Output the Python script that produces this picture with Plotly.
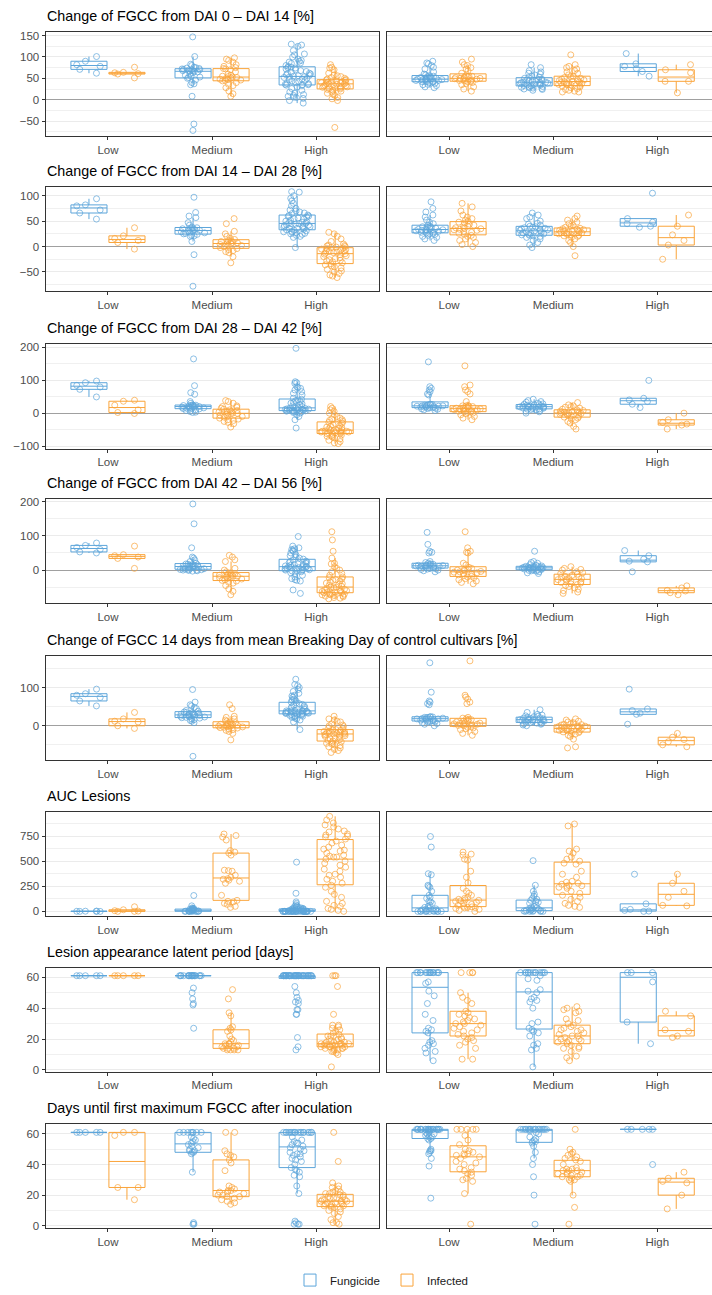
import plotly.graph_objects as go

W, H = 712, 1295
BLUE = "#5DA5DA"
ORANGE = "#FAA43A"
BLUE_PT = "rgba(93,165,218,0.70)"
ORANGE_PT = "rgba(250,164,58,0.70)"

CATS = ["Low", "Medium", "High"]
GROUPS = ["Fungicide", "Infected"]
TITLES = [
    "Change of FGCC from DAI 0 – DAI 14 [%]",
    "Change of FGCC from DAI 14 – DAI 28 [%]",
    "Change of FGCC from DAI 28 – DAI 42 [%]",
    "Change of FGCC from DAI 42 – DAI 56 [%]",
    "Change of FGCC 14 days from mean Breaking Day of control cultivars [%]",
    "AUC Lesions",
    "Lesion appearance latent period [days]",
    "Days until first maximum FGCC after inoculation",
]

# ---------------- Row 1 ----------------
r1_L_fung = [
    [62, 71, 78, 82, 90, 101],
    [147, 101, 83, 80, 76, 75, 74, 73, 72, 71, 70, 70, 69, 68, 68, 67, 66, 65, 63, 60, 57, 55, 53, 52, 50, 46, 40, 37, 35, 8, -57, -72],
    [130, 128, 125, 115, 107, 105, 100, 95, 92, 90, 88, 86, 85, 80, 78, 76, 75, 74, 72, 70, 68, 66, 64, 62, 61, 60, 58, 57, 56, 55, 54, 53, 52, 50, 48, 47, 45, 44, 42, 40, 38, 37, 36, 35, 35, 34, 33, 30, 26, 22, 18, 15, 12, 10, 8, 6, 5, 3, -2, -8],
]
r1_L_inf = [
    [51, 60, 61, 63, 64, 76],
    [98, 95, 92, 88, 82, 78, 75, 73, 72, 70, 65, 60, 57, 55, 54, 53, 52, 51, 50, 48, 47, 46, 45, 44, 40, 36, 33, 28, 20, 14, 8],
    [82, 76, 74, 70, 62, 58, 56, 54, 52, 50, 48, 47, 46, 45, 44, 43, 42, 41, 40, 40, 39, 38, 37, 37, 36, 35, 34, 33, 32, 31, 30, 29, 28, 27, 26, 25, 24, 22, 20, 18, 15, 12, 10, 5, 2, -2, -65],
]
r1_R_fung = [
    [90, 86, 84, 80, 76, 72, 65, 60, 58, 56, 55, 54, 53, 52, 51, 50, 50, 49, 48, 48, 47, 47, 46, 45, 45, 44, 43, 42, 42, 41, 40, 38, 36, 35, 33, 30, 28],
    [82, 75, 68, 65, 62, 60, 58, 55, 53, 52, 50, 48, 47, 46, 45, 44, 43, 42, 41, 41, 40, 40, 39, 38, 37, 36, 35, 34, 33, 32, 31, 30, 29, 28, 27, 26, 25, 24, 22],
    [55, 66, 73, 78, 84, 108],
]
r1_R_inf = [
    [95, 88, 82, 80, 75, 72, 68, 62, 56, 55, 55, 54, 53, 52, 51, 50, 50, 49, 48, 47, 46, 45, 44, 43, 42, 40, 38, 35, 30, 25, 20],
    [105, 82, 78, 75, 72, 68, 65, 62, 58, 55, 54, 52, 50, 48, 47, 46, 45, 44, 43, 42, 41, 40, 39, 38, 37, 36, 35, 34, 33, 32, 30, 28, 26, 24, 22, 20, 18, 18],
    [16, 43, 43, 63, 70, 82],
]

# ---------------- Row 2 ----------------
r2_L_fung = [
    [54, 66, 72, 80, 82, 94],
    [97, 67, 60, 57, 47, 42, 38, 37, 36, 35, 35, 34, 33, 32, 31, 30, 29, 28, 27, 26, 25, 24, 22, 21, 20, 10, -16, -78],
    [108, 107, 100, 95, 90, 85, 80, 75, 72, 70, 68, 66, 65, 62, 61, 60, 59, 58, 56, 55, 54, 52, 50, 49, 48, 47, 46, 45, 45, 44, 43, 42, 41, 40, 39, 38, 37, 36, 35, 34, 33, 32, 31, 30, 29, 28, 27, 26, 25, 24, 22, 20, 18, -2],
]
r2_L_inf = [
    [-5, 8, 12, 16, 21, 37],
    [55, 45, 30, 25, 20, 16, 14, 12, 11, 10, 9, 8, 7, 6, 5, 4, 3, 2, 0, -2, -4, -6, -8, -10, -12, -20, -32],
    [28, 25, 20, 15, 10, 5, 3, 2, 1, 0, -1, -2, -3, -4, -5, -6, -7, -8, -9, -10, -11, -12, -13, -14, -15, -16, -18, -20, -22, -24, -26, -27, -28, -30, -32, -34, -36, -38, -40, -42, -45, -48, -50, -53, -56, -58, -61],
]
r2_R_fung = [
    [88, 75, 68, 62, 58, 52, 48, 45, 42, 40, 39, 38, 37, 36, 35, 34, 34, 33, 33, 32, 31, 30, 30, 29, 28, 27, 26, 25, 24, 22, 20, 18, 15, 12],
    [66, 62, 58, 55, 50, 46, 44, 42, 40, 39, 38, 37, 36, 35, 34, 33, 32, 31, 30, 29, 28, 27, 26, 25, 24, 23, 22, 21, 20, 18, 15, 12, 8, 3, -2],
    [38, 40, 45, 48, 55, 105],
]
r2_R_inf = [
    [85, 78, 70, 62, 58, 55, 52, 50, 48, 46, 44, 42, 40, 38, 37, 36, 35, 34, 33, 32, 30, 28, 26, 24, 22, 20, 18, 15, 12, 8, 4, 0],
    [60, 55, 52, 48, 45, 42, 40, 38, 36, 35, 34, 33, 32, 31, 30, 30, 29, 28, 28, 27, 26, 25, 24, 23, 22, 21, 20, 18, 15, 12, 8, 0, -18],
    [-25, 3, 12, 23, 40, 62],
]

# ---------------- Row 3 ----------------
r3_L_fung = [
    [49, 72, 79, 84, 92, 97],
    [164, 83, 62, 57, 35, 30, 25, 24, 24, 23, 23, 22, 21, 20, 20, 19, 18, 17, 16, 15, 14, 13, 12, 10, 8, 5, 3, 2],
    [196, 95, 92, 90, 80, 78, 75, 70, 65, 60, 55, 45, 42, 40, 38, 35, 32, 30, 28, 25, 22, 20, 18, 17, 16, 15, 14, 13, 12, 12, 11, 10, 10, 9, 9, 8, 8, 7, 7, 6, 5, 4, 3, 2, 0, -5, -10, -20, -45],
]
r3_L_inf = [
    [-1, 2, 10, 24, 36, 39],
    [38, 35, 30, 22, 20, 18, 15, 12, 10, 8, 6, 5, 3, 2, 0, -1, -2, -4, -6, -8, -10, -12, -15, -18, -20, -22, -25, -28, -32, -42],
    [20, 15, 10, 5, 0, -5, -10, -15, -18, -20, -22, -25, -28, -30, -32, -35, -38, -40, -42, -44, -46, -48, -50, -51, -52, -53, -54, -55, -55, -56, -57, -57, -58, -59, -60, -61, -62, -64, -66, -68, -70, -72, -75, -78, -82, -86, -90, -92],
]
r3_R_fung = [
    [155, 80, 75, 70, 65, 58, 55, 27, 26, 26, 25, 24, 23, 22, 22, 21, 21, 20, 20, 19, 18, 17, 16, 15, 14, 13, 12, 10, 8],
    [42, 38, 35, 33, 30, 28, 27, 26, 25, 24, 23, 22, 21, 20, 20, 19, 19, 18, 17, 16, 15, 14, 13, 12, 11, 10, 8, 6, 4, 0],
    [17, 27, 35, 40, 45, 99],
]
r3_R_inf = [
    [143, 85, 80, 70, 65, 58, 35, 23, 22, 21, 22, 20, 18, 16, 15, 14, 13, 12, 11, 10, 9, 8, 6, 5, 4, 2, 0, -2, -5, -10, -15, -20],
    [32, 25, 22, 20, 18, 15, 12, 10, 8, 6, 5, 4, 3, 2, 1, 0, -1, -2, -4, -6, -8, -10, -12, -15, -18, -20, -25, -30, -40, -48],
    [-48, -36, -33, -28, -20, 0],
]

# ---------------- Row 4 ----------------
r4_L_fung = [
    [50, 53, 60, 66, 72, 79],
    [193, 135, 65, 38, 35, 30, 25, 20, 18, 17, 16, 15, 14, 13, 12, 11, 10, 9, 8, 7, 6, 5, 4, 3, 2, 1, 1, 0, 0, -1, -2, -3],
    [98, 70, 65, 62, 60, 58, 55, 50, 45, 42, 38, 35, 32, 30, 26, 25, 24, 22, 20, 18, 16, 15, 14, 12, 11, 10, 10, 9, 8, 7, 6, 5, 4, 3, 2, 1, 0, -1, -2, -3, -5, -8, -10, -15, -20, -25, -28, -30, -32, -58, -68],
]
r4_L_inf = [
    [5, 34, 38, 42, 45, 70],
    [43, 38, 30, 25, 5, 0, -5, -8, -10, -12, -14, -15, -16, -17, -18, -19, -20, -22, -24, -26, -28, -30, -32, -35, -38, -45, -55, -62, -72],
    [112, 88, 55, 35, 20, 18, 10, 5, 0, -5, -10, -15, -20, -22, -25, -28, -30, -32, -35, -38, -40, -42, -45, -47, -49, -50, -52, -54, -56, -58, -60, -60, -62, -62, -64, -65, -66, -66, -68, -70, -70, -72, -72, -74, -75, -76, -78, -80, -82, -84],
]
r4_R_fung = [
    [110, 75, 55, 52, 50, 25, 22, 20, 18, 17, 16, 15, 14, 13, 13, 12, 12, 11, 10, 9, 8, 7, 6, 5, 4, 3, 2, 0, -2, -5],
    [55, 25, 22, 20, 16, 14, 12, 11, 10, 10, 9, 9, 8, 8, 7, 6, 6, 5, 5, 4, 3, 2, 1, 0, -1, -2, -3, -5, -8, -10],
    [-5, 24, 26, 32, 42, 57],
]
r4_R_inf = [
    [112, 65, 55, 52, 50, 20, 15, 8, 5, 3, 1, 0, -2, -4, -5, -6, -8, -10, -12, -14, -16, -18, -20, -22, -25, -28, -32, -36, -40],
    [10, 5, 2, 0, -5, -8, -10, -12, -15, -18, -20, -22, -24, -25, -26, -28, -30, -32, -34, -36, -38, -40, -42, -45, -48, -52, -56, -60, -64, -68],
    [-72, -66, -61, -59, -52, -46],
]

# ---------------- Row 5 ----------------
r5_L_fung = [
    [52, 65, 74, 80, 84, 96],
    [95, 62, 55, 52, 48, 45, 40, 38, 36, 35, 34, 33, 32, 31, 30, 29, 28, 27, 27, 26, 25, 24, 23, 22, 21, 20, 18, 16, 14, 12, 8, -80],
    [122, 108, 105, 100, 95, 90, 85, 80, 78, 75, 70, 68, 65, 62, 60, 58, 56, 54, 52, 50, 48, 46, 44, 42, 40, 40, 39, 39, 38, 38, 37, 37, 36, 36, 35, 35, 34, 34, 33, 33, 32, 31, 30, 29, 28, 27, 26, 25, 24, 22, 20, 18, 15, 10, -10],
]
r5_L_inf = [
    [-7, 0, 10, 12, 18, 35],
    [55, 45, 25, 22, 18, 15, 12, 10, 8, 6, 5, 4, 3, 2, 1, 0, 0, -1, -2, -3, -4, -5, -6, -8, -10, -12, -15, -20, -37],
    [25, 18, 15, 12, 10, 5, 2, 0, -2, -5, -8, -10, -11, -12, -14, -15, -16, -17, -18, -19, -20, -20, -21, -22, -22, -24, -25, -26, -28, -30, -32, -34, -36, -38, -40, -42, -44, -46, -48, -50, -52, -55, -58, -62, -65, -70],
]
r5_R_fung = [
    [165, 88, 65, 62, 58, 55, 24, 23, 23, 22, 22, 21, 20, 19, 18, 18, 17, 16, 15, 14, 13, 12, 11, 10, 8, 6, 4, 0],
    [42, 35, 30, 28, 26, 25, 24, 22, 21, 20, 19, 18, 17, 16, 16, 15, 14, 13, 12, 11, 10, 9, 8, 7, 6, 5, 4, 2, 0],
    [4, 30, 33, 40, 44, 96],
]
r5_R_inf = [
    [170, 80, 75, 70, 62, 58, 22, 20, 18, 17, 16, 14, 12, 10, 8, 7, 6, 5, 4, 3, 2, 1, 0, -2, -4, -6, -8, -10, -15, -20, -25],
    [18, 15, 12, 10, 8, 5, 4, 3, 2, 0, -1, -2, -3, -4, -5, -6, -7, -8, -9, -10, -12, -13, -14, -15, -16, -18, -20, -22, -25, -28, -35, -55, -58],
    [-55, -50, -42, -36, -30, -20],
]

# ---------------- Row 6 ----------------
r6_L_fung = [
    [0, 0, 0, 1, 2, 3],
    [158, 55, 35, 30, 28, 25, 22, 20, 18, 15, 12, 10, 8, 6, 5, 4, 3, 2, 1, 0, 0, 0, 0, 0, 0],
    [490, 180, 95, 80, 65, 55, 50, 45, 40, 35, 32, 30, 28, 25, 22, 20, 18, 16, 15, 12, 10, 9, 8, 7, 6, 5, 4, 3, 2, 1,
     0, 0, 0, 0, 0, 0, 0, 0, 0, 0, 0, 0, 0, 0, 0, 0, 0, 0, 0, 0, 0, 0, 0, 0, 0],
]
r6_L_inf = [
    [0, 0, 3, 7, 16, 46],
    [770, 755, 740, 710, 605, 590, 580, 560, 410, 405, 400, 360, 340, 325, 320, 310, 300, 280, 160, 110, 100, 95, 80, 70, 50, 40],
    [946, 910, 880, 860, 840, 820, 800, 790, 770, 760, 750, 740, 720, 700, 680, 660, 640, 620, 610, 600, 580, 560, 550, 540, 540, 520, 500, 480, 460, 440, 420, 400, 370, 360, 340, 320, 300, 280, 260, 240, 200, 170, 140, 100, 80, 60, 50, 30, 20, 10, 0],
]
r6_R_fung = [
    [745, 640, 375, 365, 260, 250, 240, 200, 160, 140, 130, 100, 95, 80, 60, 50, 40, 30, 25, 20, 15, 10, 8, 5, 3, 0, 0, 0, 0, 0, 0, 0, 0, 0],
    [505, 260, 200, 170, 150, 130, 120, 110, 100, 90, 80, 60, 50, 40, 35, 30, 25, 20, 15, 12, 10, 8, 5, 3, 0, 0, 0, 0, 0],
    [0, 3, 10, 20, 75, 370],
]
r6_R_inf = [
    [590, 570, 560, 520, 510, 400, 340, 285, 230, 200, 180, 160, 140, 130, 120, 115, 110, 105, 100, 90, 80, 70, 60, 50, 45, 40, 38, 35, 30, 20, 10, 0],
    [870, 850, 620, 600, 580, 540, 520, 500, 480, 470, 400, 370, 340, 300, 290, 280, 270, 260, 255, 250, 240, 230, 200, 180, 160, 140, 120, 100, 80, 60, 50, 40],
    [55, 60, 140, 200, 280, 370],
]

# ---------------- Row 7 ----------------
r7_L_fung = [
    [61, 61, 61, 61, 61],
    [61, 61, 61, 61, 61, 61, 61, 61, 61, 61, 61, 61, 61, 61, 61, 61, 61, 61, 61, 61, 53, 50, 46, 43, 42, 27],
    [61, 61, 61, 61, 61, 61, 61, 61, 61, 61, 61, 61, 61, 61, 61, 61, 61, 61, 61, 61,
     61, 61, 61, 61, 61, 61, 61, 61, 61, 61, 61, 61, 61, 61, 61, 61, 61, 61, 61, 61,
     54, 50, 47, 45, 44, 43, 39, 39, 36, 36, 21, 15, 13],
]
r7_L_inf = [
    [61, 61, 61, 61, 61],
    [52, 46, 37, 35, 28, 27, 26, 25, 22, 20, 19, 18, 17, 17, 17, 16, 16, 15, 15, 14, 14, 14, 13, 13, 13, 13],
    [61, 61, 61, 54, 36, 29, 29, 28, 27, 26, 25, 24, 23, 22, 22, 21, 20, 20, 20, 19, 19, 18, 18, 18, 17, 17, 17, 17, 17, 16, 16, 16, 16, 16, 15, 15, 15, 15, 14, 14, 14, 14, 13, 13, 12, 12, 11, 10, 2],
]
r7_R_fung = [
    [63, 63, 63, 63, 63, 63, 63, 63, 63, 63, 63, 63, 63, 63, 63, 57, 56, 51, 48, 43, 36, 32, 27, 26, 25, 24, 19, 18, 17, 16, 14, 12, 11, 6],
    [63, 63, 63, 63, 63, 63, 63, 63, 63, 63, 63, 63, 63, 61, 59, 58, 52, 51, 50, 47, 46, 45, 44, 40, 31, 30, 27, 26, 25, 24, 22, 17, 16, 14, 13, 2],
    [17, 31, 57, 63, 63, 63],
]
r7_R_inf = [
    [63, 63, 63, 63, 50, 47, 45, 43, 38, 37, 36, 35, 34, 33, 32, 31, 30, 30, 29, 28, 27, 26, 25, 24, 23, 22, 21, 20, 19, 18, 16, 14, 7, 7],
    [41, 40, 39, 38, 37, 33, 32, 30, 29, 28, 27, 26, 26, 25, 24, 23, 22, 22, 21, 20, 20, 19, 19, 18, 18, 17, 16, 15, 14, 14, 12, 9, 8, 6],
    [21, 22, 25, 26, 35, 38],
]

# ---------------- Row 8 ----------------
r8_L_fung = [
    [61, 61, 61, 61, 61],
    [61, 61, 61, 61, 61, 61, 61, 61, 58, 57, 56, 55, 54, 53, 52, 51, 50, 49, 49, 48, 48, 47, 35, 2, 1, 1],
    [61, 61, 61, 61, 61, 61, 61, 61, 61, 61, 61, 61, 61, 61, 61, 61, 61, 61,
     58, 56, 55, 54, 54, 53, 52, 51, 50, 49, 48, 47, 47, 46, 45, 44, 43, 42, 40, 38, 37, 36, 35, 33, 32, 26, 21, 3, 2, 1, 1, 1],
]
r8_L_inf = [
    [17, 25, 25, 59, 61, 61],
    [61, 61, 49, 47, 46, 45, 43, 41, 36, 26, 25, 24, 23, 23, 22, 22, 21, 20, 20, 19, 19, 18, 17, 16, 15, 14],
    [61, 42, 28, 26, 25, 24, 23, 22, 22, 21, 21, 20, 20, 19, 19, 18, 18, 18, 17, 17, 17, 16, 16, 16, 15, 15, 15, 14, 14, 14, 13, 13, 13, 12, 12, 11, 10, 9, 8, 6, 4, 2, 2, 1],
]
r8_R_fung = [
    [63, 63, 63, 63, 63, 63, 63, 63, 63, 63, 63, 63, 63, 63, 63, 63, 63, 63, 63, 63,
     62, 62, 61, 61, 60, 60, 59, 58, 58, 57, 57, 56, 50, 49, 49, 48, 47, 44, 39, 18],
    [63, 63, 63, 63, 63, 63, 63, 63, 63, 63, 63, 63, 63, 63, 63, 63, 62, 61, 60, 58, 57, 56, 55, 55, 54, 52, 48, 44, 40, 32, 20, 1],
    [40, 63, 63, 63, 63, 63],
]
r8_R_inf = [
    [63, 63, 63, 63, 63, 59, 56, 53, 50, 49, 48, 47, 47, 46, 46, 45, 44, 42, 41, 40, 38, 37, 36, 35, 34, 33, 31, 30, 29, 21, 1],
    [63, 50, 48, 47, 46, 45, 44, 43, 42, 40, 38, 37, 37, 36, 36, 36, 35, 35, 34, 34, 33, 33, 32, 32, 31, 30, 30, 29, 20, 12, 1],
    [11, 20, 28, 29, 31, 35],
]

ROWS = [
    (r1_L_fung, r1_L_inf, r1_R_fung, r1_R_inf),
    (r2_L_fung, r2_L_inf, r2_R_fung, r2_R_inf),
    (r3_L_fung, r3_L_inf, r3_R_fung, r3_R_inf),
    (r4_L_fung, r4_L_inf, r4_R_fung, r4_R_inf),
    (r5_L_fung, r5_L_inf, r5_R_fung, r5_R_inf),
    (r6_L_fung, r6_L_inf, r6_R_fung, r6_R_inf),
    (r7_L_fung, r7_L_inf, r7_R_fung, r7_R_inf),
    (r8_L_fung, r8_L_inf, r8_R_fung, r8_R_inf),
]

# axis settings per row: y range, major step, minor step, zero line
Y_RANGES = [[-85, 159], [-87, 118], [-107, 208], [-97, 207], [-90, 183], [-45, 992], [-1.1, 66.3], [-1.8, 66.3]]
Y_DTICK = [50, 50, 100, 100, 100, 250, 20, 20]
Y_MINOR = [25, 25, 50, 50, 50, 125, 10, 10]
ZERO_LINE = [True, True, True, True, True, False, False, False]

# panel pixel geometry
PANEL_TOP = [28, 184, 343, 499, 657, 814, 971, 1129]
PANEL_H = 105
LEFT_X = (45.5, 378.6)
RIGHT_X0 = 386.6
UNIT = (LEFT_X[1] - LEFT_X[0]) / 3.2

FONT = "Liberation Sans, Arial, sans-serif"
TICK_FONT = dict(family=FONT, size=11.5, color="#4D4D4D")

fig = go.Figure()
layout = dict()
annotations = []

for r, (lf, li, rf, ri) in enumerate(ROWS):
    top = PANEL_TOP[r]
    bot = top + PANEL_H
    ydom = [1 - bot / H, 1 - top / H]
    for p, (fung, inf) in enumerate([(lf, li), (rf, ri)]):
        k = 2 * r + p + 1
        xa = "x" if k == 1 else f"x{k}"
        ya = "y" if k == 1 else f"y{k}"
        for name, data, col, pcol in [("Fungicide", fung, BLUE, BLUE_PT), ("Infected", inf, ORANGE, ORANGE_PT)]:
            xs, ys = [], []
            for cat, vals in zip(CATS, data):
                xs += [cat] * len(vals)
                ys += vals
            fig.add_trace(go.Box(
                x=xs, y=ys, name=name, legendgroup=name, showlegend=(k == 1),
                xaxis=xa, yaxis=ya,
                alignmentgroup=f"panel{k}", offsetgroup=name,
                boxpoints="all", jitter=0.8, pointpos=0, whiskerwidth=0,
                fillcolor="rgba(255,255,255,0)",
                line=dict(color=col, width=1),
                marker=dict(symbol="circle-open", size=6, color=pcol, line=dict(width=1)),
                hoverinfo="skip",
            ))
        if p == 0:
            xdom = [LEFT_X[0] / W, LEFT_X[1] / W]
            xrange = [-0.6, 2.6]
        else:
            xdom = [RIGHT_X0 / W, 1.0]
            xrange = [-0.6, -0.6 + (W - RIGHT_X0) / UNIT]
        xkey = "xaxis" if k == 1 else f"xaxis{k}"
        ykey = "yaxis" if k == 1 else f"yaxis{k}"
        layout[xkey] = dict(
            domain=xdom, range=xrange, anchor=ya, type="category",
            categoryorder="array", categoryarray=CATS,
            showgrid=False, zeroline=False,
            showline=True, linecolor="#333333", linewidth=1, mirror=True,
            ticks="outside", ticklen=3, tickcolor="#333333", tickwidth=1,
            tickfont=TICK_FONT,
        )
        layout[ykey] = dict(
            domain=ydom, range=Y_RANGES[r], anchor=xa,
            tick0=0, dtick=Y_DTICK[r],
            showgrid=True, gridcolor="#EBEBEB", gridwidth=1,
            minor=dict(dtick=Y_MINOR[r], tick0=0, showgrid=True, gridcolor="#F0F0F0", gridwidth=0.8, ticks=""),
            zeroline=ZERO_LINE[r], zerolinecolor="#A0A0A0", zerolinewidth=1.2,
            showline=True, linecolor="#333333", linewidth=1, mirror=(p == 0),
            ticks="outside" if p == 0 else "", ticklen=3, tickcolor="#333333", tickwidth=1,
            showticklabels=(p == 0), tickfont=TICK_FONT,
        )
    annotations.append(dict(
        text=TITLES[r], xref="paper", yref="paper",
        x=LEFT_X[0] / W - 0.001, y=1 - (top - 16) / H,
        xanchor="left", yanchor="middle", showarrow=False,
        font=dict(family=FONT, size=14.3, color="#000000"),
    ))

fig.update_layout(
    width=W, height=H,
    margin=dict(l=0, r=0, t=0, b=0),
    paper_bgcolor="white", plot_bgcolor="white",
    boxmode="group", boxgap=0.27, boxgroupgap=0.05,
    showlegend=True,
    legend=dict(
        orientation="h", x=387 / W, xanchor="center", y=1 - 1286 / H, yanchor="middle",
        entrywidth=52, entrywidthmode="pixels",
        font=dict(family=FONT, size=11.5, color="#1A1A1A"), bgcolor="rgba(0,0,0,0)",
    ),
    annotations=annotations,
    font=dict(family=FONT),
    **layout,
)

fig.write_html(
    "out.html",
    config={"displayModeBar": False},
    post_script="document.body.style.margin='0px';document.body.style.overflow='hidden';",
)
